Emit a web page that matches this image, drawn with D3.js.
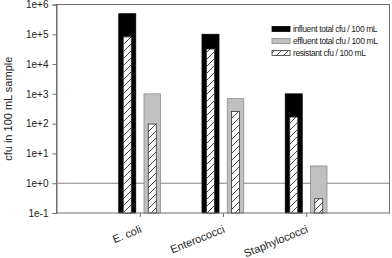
<!DOCTYPE html>
<html lang="en">
<head>
<meta charset="utf-8">
<script src="https://d3js.org/d3.v7.min.js"></script>
<style>
  body { margin: 0; background: #fff; }
  svg { font-family: 'Liberation Sans', Arial, sans-serif; }
  .tick text { fill: #222; }
</style>
</head>
<body>
<div id="chart"></div>
<script>
// data
var categories = ["E. coli", "Enterococci", "Staphylococci"];
var influentTotal = [490000, 100000, 1000];
var influentResistant = [82000, 32000, 166];
var effluentTotal = [1000, 690, 3.8];
var effluentResistant = [97, 257, 0.3];
var yTicks = [0.1, 1, 10, 100, 1000, 10000, 100000, 1000000];
var legendLabels = ["influent total cfu / 100 mL", "effluent total cfu / 100 mL", "resistant cfu / 100 mL"];

var W = 392, H = 258;
var margin = {top: 4.5, right: 2.5, bottom: 45, left: 56.5};
var axisCol = "#6e6e6e";

var svg = d3.select("#chart").append("svg")
  .attr("width", W).attr("height", H);

// hatch pattern
var defs = svg.append("defs");
defs.append("pattern")
  .attr("id", "hatch")
  .attr("patternUnits", "userSpaceOnUse")
  .attr("width", 7).attr("height", 7)
  .append("path")
  .attr("d", "M-1,1 l2,-2 M0,7 l7,-7 M6,8 l2,-2")
  .attr("stroke", "#333")
  .attr("stroke-width", 0.9);

var x = d3.scaleLinear().domain([0, 4]).range([margin.left, W - margin.right]);
var y = d3.scaleLog().domain([0.1, 1e6]).range([H - margin.bottom, margin.top]);
var y0 = y(0.1);

function fmt(d) {
  var e = Math.round(Math.log10(d));
  return "1e" + (e < 0 ? "-" : "+") + Math.abs(e);
}

// reference line at 1
svg.append("line")
  .attr("x1", x(0)).attr("x2", x(4))
  .attr("y1", y(1)).attr("y2", y(1))
  .attr("stroke", "#808080").attr("stroke-width", 1);

// bars
var barInfo = [
  {vals: influentTotal, off: -12.5, w: 17, fill: "#000", stroke: "#000"},
  {vals: effluentTotal, off: 12.5, w: 16.5, fill: "#c0c0c0", stroke: "#8c8c8c"},
  {vals: influentResistant, off: -12.5, w: 8, fill: "url(#hatch)", stroke: "#333", bg: true},
  {vals: effluentResistant, off: 12.5, w: 8, fill: "url(#hatch)", stroke: "#333", bg: true}
];

barInfo.forEach(function(b) {
  categories.forEach(function(c, i) {
    var cx = x(i + 1) + b.off;
    var top = y(b.vals[i]);
    if (b.bg) {
      svg.append("rect")
        .attr("x", cx - b.w / 2).attr("y", top)
        .attr("width", b.w).attr("height", y0 - top)
        .attr("fill", "#fff");
    }
    svg.append("rect")
      .attr("x", cx - b.w / 2).attr("y", top)
      .attr("width", b.w).attr("height", y0 - top)
      .attr("fill", b.fill)
      .attr("stroke", b.stroke)
      .attr("stroke-width", 0.8);
  });
});

// frame
svg.append("rect")
  .attr("x", x(0)).attr("y", y(1e6))
  .attr("width", x(4) - x(0)).attr("height", y0 - y(1e6))
  .attr("fill", "none").attr("stroke", axisCol).attr("stroke-width", 1);

// y axis
var yAxis = svg.append("g")
  .attr("transform", "translate(" + x(0) + ",0)")
  .call(d3.axisLeft(y).tickValues(yTicks).tickFormat(fmt).tickSize(4).tickPadding(4));
yAxis.select(".domain").attr("stroke", axisCol);
yAxis.selectAll(".tick line").attr("stroke", axisCol);
yAxis.selectAll("text").attr("font-size", 10).attr("font-family", "'Liberation Sans', Arial, sans-serif");

// x axis
var xAxis = svg.append("g")
  .attr("transform", "translate(0," + y0 + ")")
  .call(d3.axisBottom(x).tickValues([1, 2, 3]).tickFormat(function(d) { return categories[d - 1]; }).tickSizeOuter(0).tickSize(4));
xAxis.select(".domain").remove();
xAxis.selectAll(".tick line").attr("stroke", axisCol);
xAxis.selectAll("text")
  .attr("font-size", 11)
  .attr("font-family", "'Liberation Sans', Arial, sans-serif")
  .attr("text-anchor", "end")
  .attr("dy", null).attr("y", null)
  .attr("transform", "translate(2,19) rotate(-22)");

// y title
svg.append("text")
  .attr("transform", "translate(11.5," + ((y0 + y(1e6)) / 2) + ") rotate(-90)")
  .attr("text-anchor", "middle")
  .attr("font-size", 11)
  .attr("fill", "#222")
  .text("cfu in 100 mL sample");

// legend
var legend = svg.append("g").attr("transform", "translate(272,29)");
var legendStyle = [
  {fill: "#000", stroke: "#000"},
  {fill: "#c0c0c0", stroke: "#8c8c8c"},
  {fill: "url(#hatch)", stroke: "#333"}
];
legendLabels.forEach(function(l, i) {
  var g = legend.append("g").attr("transform", "translate(0," + (i * 12) + ")");
  g.append("rect").attr("x", 0).attr("y", -2.5).attr("width", 18).attr("height", 5)
    .attr("fill", "#fff");
  g.append("rect").attr("x", 0).attr("y", -2.5).attr("width", 18).attr("height", 5)
    .attr("fill", legendStyle[i].fill).attr("stroke", legendStyle[i].stroke).attr("stroke-width", 0.8);
  g.append("text").attr("x", 21).attr("y", 3.3)
    .attr("font-size", 8.5).attr("letter-spacing", -0.4).attr("fill", "#222")
    .text(l);
});
</script>
</body>
</html>
